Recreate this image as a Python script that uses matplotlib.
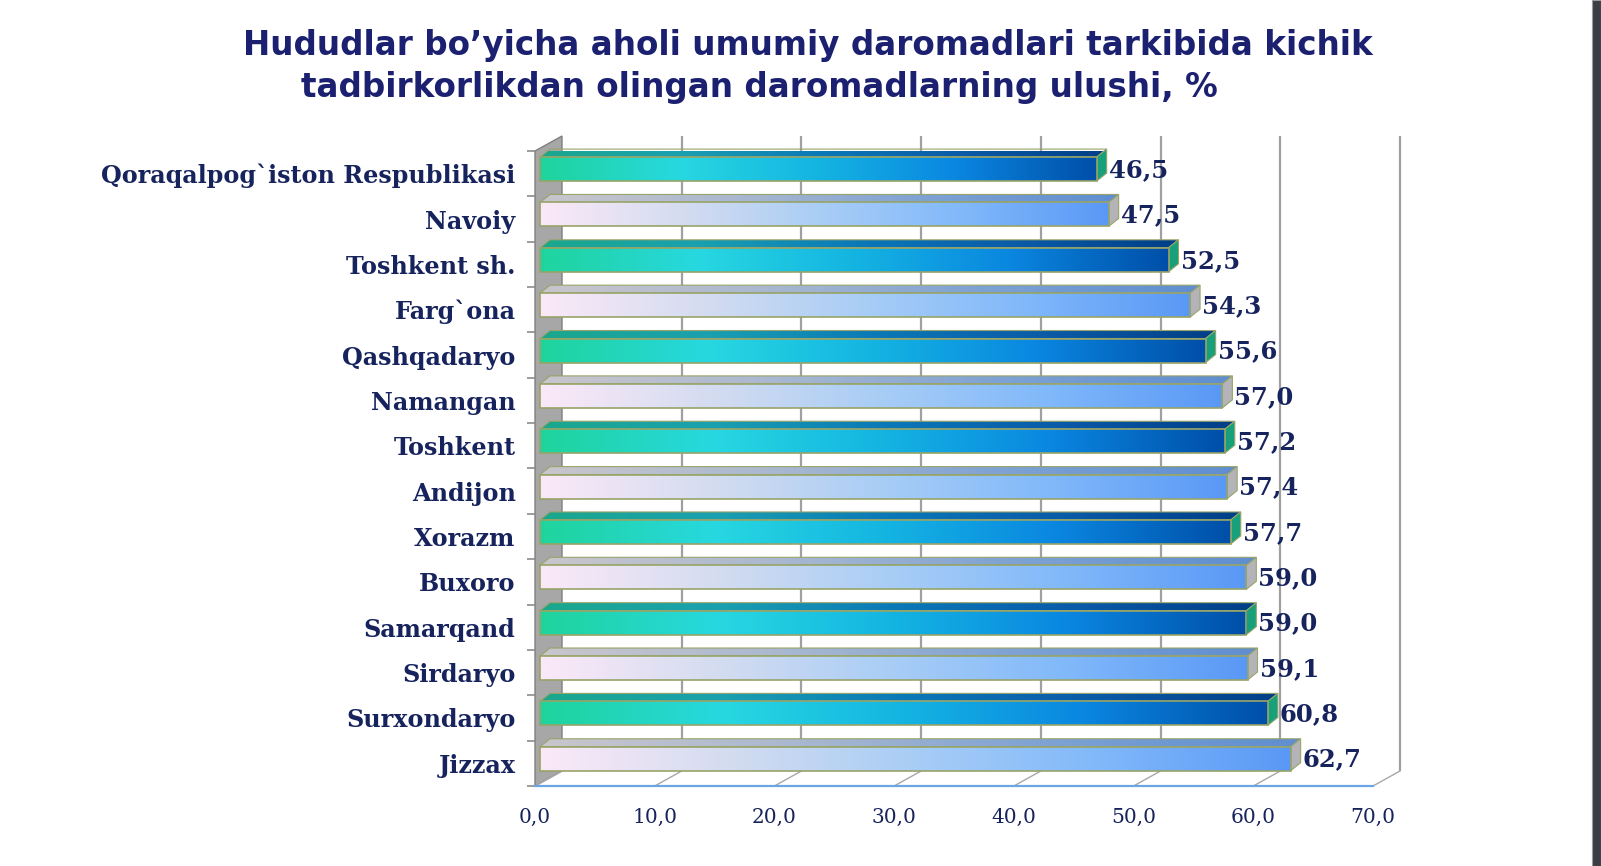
import numpy as np
import matplotlib
matplotlib.use("Agg")
import matplotlib.pyplot as plt
from matplotlib.colors import LinearSegmentedColormap
from matplotlib.patches import Rectangle, Polygon

# ---------------- data ----------------
regions = ["Qoraqalpog`iston Respublikasi", "Navoiy", "Toshkent sh.", "Farg`ona",
           "Qashqadaryo", "Namangan", "Toshkent", "Andijon", "Xorazm", "Buxoro",
           "Samarqand", "Sirdaryo", "Surxondaryo", "Jizzax"]
values = [46.5, 47.5, 52.5, 54.3, 55.6, 57.0, 57.2, 57.4, 57.7, 59.0, 59.0, 59.1, 60.8, 62.7]
x_ticks = [0, 10, 20, 30, 40, 50, 60, 70]
x_tick_labels = ["0,0", "10,0", "20,0", "30,0", "40,0", "50,0", "60,0", "70,0"]
title_line1 = "Hududlar bo\u2019yicha aholi umumiy daromadlari tarkibida kichik"
title_line2 = "tadbirkorlikdan olingan daromadlarning ulushi, %"

# ---------------- style ----------------
FIG_W, FIG_H = 1601, 866
DPI = 100
NAVY = "#16235c"
TITLE_C = "#1b2170"
teal_cmap = LinearSegmentedColormap.from_list(
    "teal", ["#1fd49c", "#27d8e0", "#14b4e2", "#0a86e0", "#004fa8"])
teal_top_cmap = LinearSegmentedColormap.from_list(
    "teal_top", ["#1aa88c", "#1aa0b0", "#0a78b8", "#0a5aa8", "#003f88"])
light_cmap = LinearSegmentedColormap.from_list(
    "light", ["#fbe9f8", "#d4dcf0", "#a8cdf6", "#80b8fa", "#5a98f6"])
light_top_cmap = LinearSegmentedColormap.from_list(
    "light_top", ["#c9c6cc", "#aab8d0", "#7ea2d4", "#5f8ed0"])
teal_side = "#17a07a"
light_side = "#b4b4b8"
edge_c = "#98a468"

fig = plt.figure(figsize=(FIG_W / DPI, FIG_H / DPI), dpi=DPI)
fig.patch.set_facecolor("white")

# front plane of the 3-D plot area (pixels)
ax_left, ax_right, ax_top, ax_bottom = 535, 1373, 151, 786
ax = fig.add_axes([ax_left / FIG_W, 1 - ax_bottom / FIG_H,
                   (ax_right - ax_left) / FIG_W, (ax_bottom - ax_top) / FIG_H])
ax.set_facecolor("none")

n = len(regions)
xmin, xmax = 0, 70
ymin, ymax = n - 0.5, -0.5
ux = (xmax - xmin) / (ax_right - ax_left)      # data units per pixel (x)
uy = (ymin - ymax) / (ax_bottom - ax_top)      # data units per pixel (y)

# depth vectors (px -> data); up is negative y (inverted axis)
wdx, wdy = 27 * ux, -15 * uy
bsx, bsy = 5 * ux, -3 * uy          # bar front shift
bdx, bdy = 10 * ux, -8 * uy         # bar depth
bar_h = 24 * uy
bar_off = -0.035

# left wall
ax.add_patch(Polygon([(xmin, ymin), (xmin, ymax), (xmin + wdx, ymax + wdy), (xmin + wdx, ymin + wdy)],
                     closed=True, facecolor="#a7a7a7", edgecolor="#808080", lw=1.0,
                     clip_on=False, zorder=1))
# back wall gridlines
for xt in x_ticks[1:]:
    ax.plot([xt + wdx, xt + wdx], [ymin + wdy, ymax + wdy], color="#a0a0a0", lw=1.6,
            clip_on=False, zorder=1, solid_capstyle="butt")
# floor diagonals
for xt in x_ticks:
    ax.plot([xt, xt + wdx], [ymin, ymin + wdy], color="#a8a8a8", lw=1.0, clip_on=False, zorder=1)
ax.plot([xmin, xmax], [ymin, ymin], color="#6aa6e6", lw=1.6, clip_on=False, zorder=2)

grad = np.linspace(0, 1, 256).reshape(1, -1)
for i, (name, v) in enumerate(zip(regions, values)):
    teal = (i % 2 == 0)
    yc = i + bar_off + bsy
    yt, yb = yc - bar_h / 2, yc + bar_h / 2
    xs, xe = xmin + bsx, v + bsx
    # top face
    top_poly = Polygon([(xs, yt), (xe, yt), (xe + bdx, yt + bdy), (xs + bdx, yt + bdy)],
                       closed=True, facecolor="none", edgecolor=edge_c, lw=0.8,
                       clip_on=False, zorder=4)
    ax.add_patch(top_poly)
    im = ax.imshow(grad, extent=[xs, xe + bdx, yt, yt + bdy], aspect="auto",
                   cmap=teal_top_cmap if teal else light_top_cmap,
                   interpolation="bicubic", zorder=3)
    im.set_clip_path(top_poly)
    # side face
    ax.add_patch(Polygon([(xe, yt), (xe, yb), (xe + bdx, yb + bdy), (xe + bdx, yt + bdy)],
                         closed=True, facecolor=teal_side if teal else light_side,
                         edgecolor=edge_c, lw=0.8, clip_on=False, zorder=4))
    # front face
    front = Rectangle((xs, yt), xe - xs, yb - yt, facecolor="none", edgecolor=edge_c,
                      lw=1.2, clip_on=False, zorder=5)
    ax.add_patch(front)
    im = ax.imshow(grad, extent=[xs, xe, yb, yt], aspect="auto",
                   cmap=teal_cmap if teal else light_cmap,
                   interpolation="bicubic", zorder=4)
    im.set_clip_path(front)
    # value label
    ax.text(xe + bdx + 2 * ux, yc + 0.02, f"{v:.1f}".replace(".", ","),
            ha="left", va="center", fontsize=17.5, fontweight="bold",
            family="DejaVu Serif", color=NAVY, zorder=6, clip_on=False)

ax.set_xlim(xmin, xmax)
ax.set_ylim(ymin, ymax)
for s in ax.spines.values():
    s.set_visible(False)
ax.set_xticks(x_ticks)
ax.set_xticklabels(x_tick_labels, family="DejaVu Serif", fontsize=14.5, color=NAVY)
ax.tick_params(axis="x", length=0, pad=16)
ax.set_yticks(range(n))
ax.set_yticklabels(regions, family="DejaVu Serif", fontweight="bold", fontsize=17.2, color=NAVY)
ax.tick_params(axis="y", which="major", length=0, pad=14)
ax.set_yticks(np.arange(-0.5, n, 1.0), minor=True)
ax.tick_params(axis="y", which="minor", length=6, width=1.2, color="#8c8c8c", direction="out")

# title
fig.text(243 / FIG_W, 1 - 46 / FIG_H, title_line1, ha="left", va="center",
         fontsize=23.5, fontweight="bold", family="DejaVu Sans", color=TITLE_C)
fig.text(301 / FIG_W, 1 - 87 / FIG_H, title_line2, ha="left", va="center",
         fontsize=23.5, fontweight="bold", family="DejaVu Sans", color=TITLE_C)

# dark right-hand border strip
fig.patches.append(Rectangle((1592 / FIG_W, 0), 9 / FIG_W, 1, transform=fig.transFigure,
                             facecolor="#3b3e44", edgecolor="#9a9a9a", lw=0.8, zorder=10))

fig.savefig("out.png", dpi=DPI)
